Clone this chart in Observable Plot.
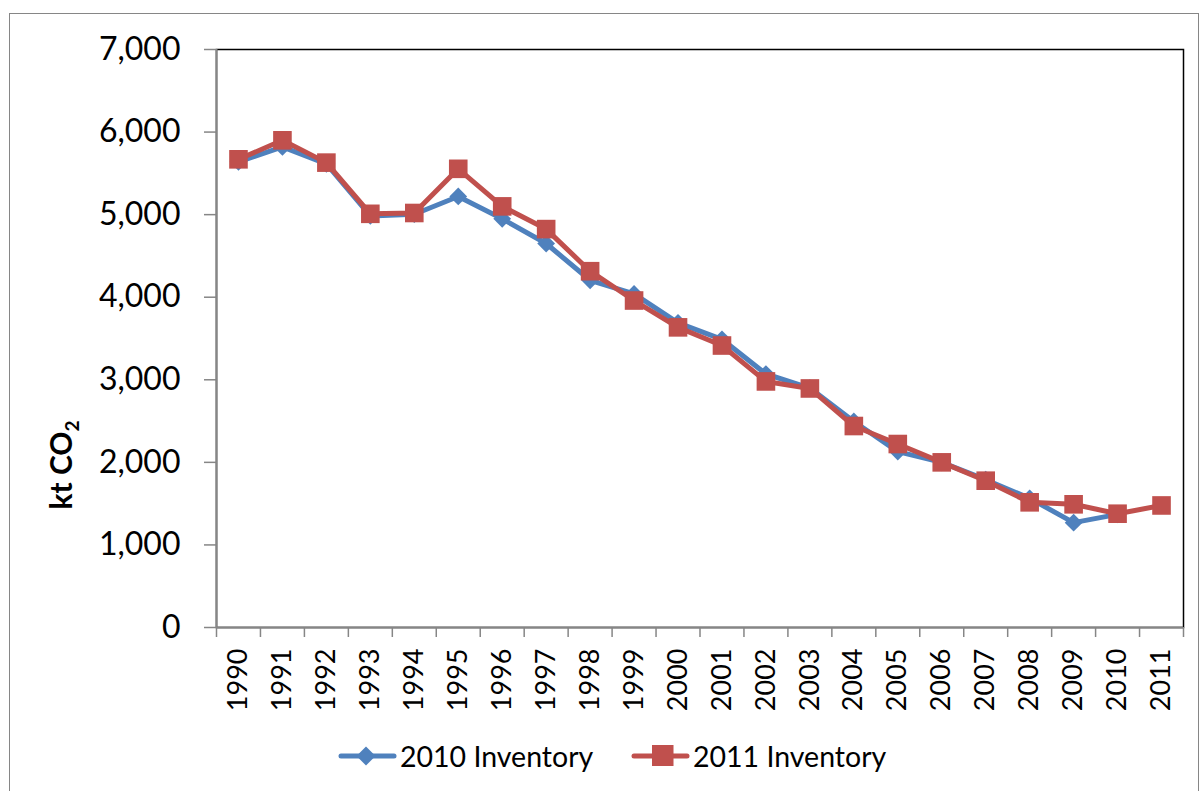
<!DOCTYPE html>
<html>
<head>
<meta charset="utf-8">
<script src="https://cdn.jsdelivr.net/npm/d3@7"></script>
<script src="https://cdn.jsdelivr.net/npm/@observablehq/plot@0.6"></script>
<style>
  html, body { margin: 0; padding: 0; background: #fff; }
  #wrap { position: relative; width: 1201px; height: 791px; overflow: hidden; font-family: Lato, "Open Sans", sans-serif; }
  #border { position: absolute; left: 9px; top: 13px; width: 1190px; height: 790px; border: 1.5px solid #868686; box-sizing: border-box; }
  #chart { position: absolute; left: 0; top: 0; }
  .item { position: absolute; top: 736px; height: 40px; display: flex; align-items: center; font-size: 28.5px; color: #000; white-space: nowrap; }
  .item svg { display: block; }
</style>
</head>
<body>
<div id="wrap">
  <div id="border"></div>
  <div id="chart"></div>
</div>
<script>
const years = [1990,1991,1992,1993,1994,1995,1996,1997,1998,1999,2000,2001,2002,2003,2004,2005,2006,2007,2008,2009,2010,2011];
const inventory2010 = [5640,5820,5615,4985,5005,5220,4950,4650,4205,4040,3690,3490,3070,2900,2495,2130,2000,1790,1565,1270,1370];
const inventory2011 = [5670,5900,5630,5010,5020,5555,5100,4825,4315,3960,3635,3415,2980,2895,2440,2222,2000,1778,1516,1492,1378,1478];
const yTicks = [0,1000,2000,3000,4000,5000,6000,7000];
const seriesNames = ["2010 Inventory", "2011 Inventory"];
const colors = ["#4F81BD", "#C0504D"];

const d2010 = inventory2010.map((v, i) => ({year: years[i], value: v}));
const d2011 = inventory2011.map((v, i) => ({year: years[i], value: v}));
const xDomain = [years[0] - 0.5, years[years.length - 1] + 0.5];
const boundaries = years.map(y => y - 0.5).concat([xDomain[1]]);

const chart = Plot.plot({
  width: 1201,
  height: 720,
  marginLeft: 216,
  marginRight: 18,
  marginTop: 49,
  marginBottom: 93,
  style: {fontFamily: "Lato, 'Open Sans', sans-serif", color: "#000", background: "transparent", overflow: "visible"},
  x: {type: "linear", domain: xDomain},
  y: {domain: [0, 7000]},
  marks: [
    Plot.frame({stroke: "#000", strokeWidth: 1.5}),
    Plot.ruleY([0], {stroke: "#868686", strokeWidth: 2}),
    Plot.ruleX([xDomain[0]], {stroke: "#868686", strokeWidth: 2}),
    Plot.axisY({ticks: yTicks, tickSize: 12, tickPadding: 24, tickFormat: d3.format(","), fontSize: 32, stroke: "#868686", strokeWidth: 1.5, label: null}),
    Plot.axisX({ticks: boundaries, tickSize: 10, tickFormat: () => "", stroke: "#868686", strokeWidth: 1.5, label: null}),
    Plot.axisX({ticks: years, tickSize: 0, tickPadding: 21, tickRotate: -90, tickFormat: d => String(d), fontSize: 27, label: null}),
    Plot.line(d2010, {x: "year", y: "value", stroke: colors[0], strokeWidth: 5, strokeLinejoin: "round", strokeLinecap: "round"}),
    Plot.dot(d2010, {x: "year", y: "value", symbol: "diamond2", r: 8, fill: colors[0], stroke: "none"}),
    Plot.line(d2011, {x: "year", y: "value", stroke: colors[1], strokeWidth: 5, strokeLinejoin: "round", strokeLinecap: "round"}),
    Plot.dot(d2011, {x: "year", y: "value", symbol: "square", r: 10.5, fill: colors[1], stroke: "none"})
  ]
});

// Y-axis title with subscript
const svg = d3.select(chart);
const t = svg.append("text")
  .attr("transform", "translate(72,465) rotate(-90)")
  .attr("text-anchor", "middle")
  .attr("font-family", "Lato, 'Open Sans', sans-serif")
  .attr("font-weight", "bold")
  .attr("font-size", 30)
  .attr("fill", "#000");
t.append("tspan").text("kt CO");
t.append("tspan").attr("font-size", 19).attr("dy", 7).text("2");

document.getElementById("chart").appendChild(chart);

// Legend
const wrap = document.getElementById("wrap");
const legendLeft = [337, 630];
seriesNames.forEach((name, i) => {
  const item = document.createElement("div");
  item.className = "item";
  item.style.left = legendLeft[i] + "px";
  const sw = d3.create("svg").attr("width", 60).attr("height", 40);
  sw.append("line").attr("x1", 4).attr("x2", 57).attr("y1", 20).attr("y2", 20)
    .attr("stroke", colors[i]).attr("stroke-width", 5).attr("stroke-linecap", "round");
  if (i === 0) {
    sw.append("path").attr("d", "M29,10.5 L38.5,20 L29,29.5 L19.5,20 Z").attr("fill", colors[i]);
  } else {
    sw.append("rect").attr("x", 22).attr("y", 9).attr("width", 21.5).attr("height", 21).attr("fill", colors[i]);
  }
  item.appendChild(sw.node());
  const label = document.createElement("span");
  label.textContent = name;
  label.style.marginLeft = "3px";
  item.appendChild(label);
  wrap.appendChild(item);
});
</script>
</body>
</html>
